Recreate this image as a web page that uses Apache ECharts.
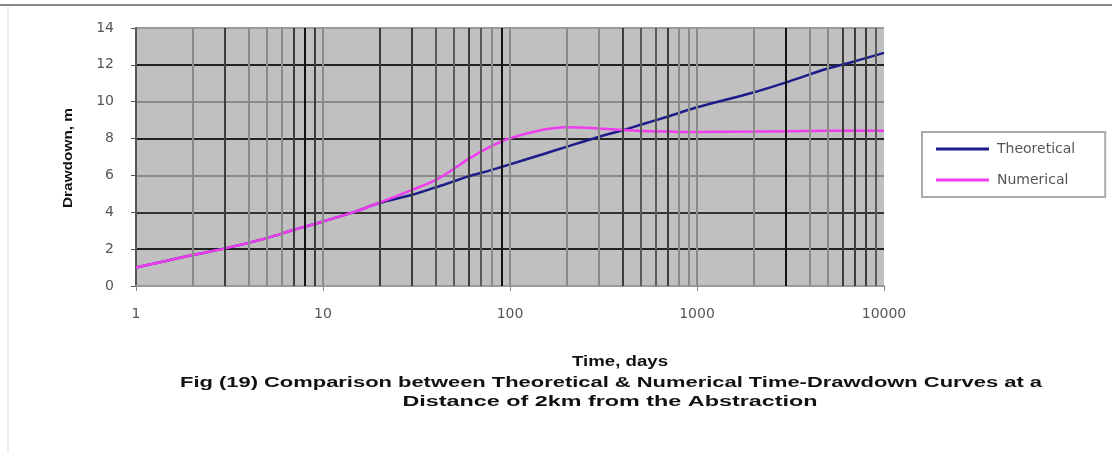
<!DOCTYPE html>
<html>
<head>
<meta charset="utf-8">
<script src="https://cdn.jsdelivr.net/npm/echarts@6/dist/echarts.min.js"></script>
<style>
  html, body { margin: 0; padding: 0; background: #fff; }
  #chart { width: 1112px; height: 453px; }
</style>
</head>
<body>
<div id="chart"></div>
<script>
// time in days (log axis)
const days = [1, 2, 3, 5, 7, 10, 15, 20, 30, 40, 50, 60, 80, 100, 150, 200, 300, 400, 500, 700, 1000, 2000, 3000, 5000, 7000, 10000];
const theoretical = [1.0, 1.68, 2.04, 2.6, 3.05, 3.5, 4.05, 4.5, 4.95, 5.35, 5.68, 5.95, 6.3, 6.6, 7.15, 7.55, 8.1, 8.45, 8.75, 9.2, 9.7, 10.5, 11.05, 11.8, 12.2, 12.65];
const numerical = [1.0, 1.68, 2.04, 2.6, 3.05, 3.5, 4.05, 4.52, 5.22, 5.75, 6.35, 6.9, 7.6, 8.02, 8.48, 8.62, 8.55, 8.46, 8.41, 8.38, 8.36, 8.38, 8.4, 8.42, 8.42, 8.43];

// vertical grid lines at every log minor tick
const minorTicks = [2, 3, 4, 5, 6, 7, 8, 9, 10,
  20, 30, 40, 50, 60, 70, 80, 90, 100,
  200, 300, 400, 500, 600, 700, 800, 900, 1000,
  2000, 3000, 4000, 5000, 6000, 7000, 8000, 9000];
// how dark each of those lines came out in the scan
const minorShade = ['#8a8a8a', '#3c3c3c', '#8a8a8a', '#8a8a8a', '#8a8a8a', '#3c3c3c', '#111', '#3c3c3c', '#8a8a8a',
  '#3c3c3c', '#3c3c3c', '#5a5a5a', '#5a5a5a', '#3c3c3c', '#5a5a5a', '#8a8a8a', '#111', '#8a8a8a',
  '#8a8a8a', '#8a8a8a', '#3c3c3c', '#5a5a5a', '#5a5a5a', '#3c3c3c', '#8a8a8a', '#8a8a8a', '#8a8a8a',
  '#8a8a8a', '#111', '#8a8a8a', '#8a8a8a', '#3c3c3c', '#3c3c3c', '#3c3c3c', '#5a5a5a'];

const yTitle = 'Drawdown, m';
const xTitle = 'Time, days';
const caption1 = 'Fig (19) Comparison between Theoretical & Numerical Time-Drawdown Curves at a';
const caption2 = 'Distance of 2km from the Abstraction';

const toPairs = (xs, ys) => xs.map((x, i) => [x, ys[i]]);

// the scanned figure is stretched sideways, so widen text to the measured width
const measureCtx = document.createElement('canvas').getContext('2d');
function stretch(text, font, target) {
  measureCtx.font = font;
  return target / measureCtx.measureText(text).width;
}

function label(text, x, y, size, target, rotate) {
  const font = 'bold ' + size + 'px "Liberation Sans"';
  return {
    type: 'text', x: x, y: y, rotation: rotate ? Math.PI / 2 : 0,
    scaleX: stretch(text, font, target),
    style: { text: text, font: font, fill: '#111', align: 'center', verticalAlign: 'middle' }
  };
}

const chart = echarts.init(document.getElementById('chart'));

chart.setOption({
  backgroundColor: '#fff',
  animation: false,
  grid: { left: 136, top: 28, right: 228, bottom: 167, show: true, backgroundColor: '#c0c0c0', borderWidth: 0 },
  legend: {
    orient: 'vertical',
    left: 922, top: 132,
    data: ['Theoretical', 'Numerical'],
    icon: 'rect',
    itemWidth: 53, itemHeight: 3,
    itemGap: 17,
    padding: [10, 30, 10, 14],
    backgroundColor: '#fff',
    borderColor: '#aaa', borderWidth: 2,
    textStyle: { fontFamily: 'DejaVu Sans', fontSize: 14, color: '#555', padding: [0, 0, 0, 3] }
  },
  xAxis: {
    type: 'log', logBase: 10, min: 1, max: 10000,
    axisLine: { show: true, lineStyle: { color: '#999', width: 2 } },
    axisTick: { show: true, length: 5, lineStyle: { color: '#888' } },
    axisLabel: { margin: 21, fontFamily: 'DejaVu Sans', fontSize: 14, color: '#555', formatter: v => String(v) },
    splitLine: { show: false }
  },
  yAxis: {
    type: 'value', min: 0, max: 14, interval: 2,
    axisLine: { show: true, lineStyle: { color: '#555', width: 2 } },
    axisTick: { show: true, length: 5, lineStyle: { color: '#555' } },
    axisLabel: { margin: 22, fontFamily: 'DejaVu Sans', fontSize: 14, color: '#555' },
    splitLine: { show: true, lineStyle: { width: 2, color: ['#999', '#222', '#333', '#8a8a8a', '#222', '#8a8a8a', '#222', '#999'] } }
  },
  series: [
    {
      name: 'gridlines', type: 'line', data: [], z: 1, silent: true,
      markLine: {
        silent: true, symbol: 'none', animation: false,
        label: { show: false },
        data: minorTicks.map((v, i) => ({ xAxis: v, lineStyle: { color: minorShade[i], width: 2, type: 'solid' } }))
      }
    },
    {
      name: 'Theoretical', type: 'line', smooth: 0.3, showSymbol: false, z: 3,
      data: toPairs(days, theoretical),
      lineStyle: { color: '#1c1c8a', width: 2.5 }, itemStyle: { color: '#1c1c8a' }
    },
    {
      name: 'Numerical', type: 'line', smooth: 0.3, showSymbol: false, z: 4,
      data: toPairs(days, numerical),
      lineStyle: { color: '#f03cf0', width: 2.5 }, itemStyle: { color: '#f03cf0' }
    }
  ],
  graphic: [
    { type: 'line', shape: { x1: 0, y1: 5, x2: 1112, y2: 5 }, style: { stroke: '#888', lineWidth: 2 } },
    { type: 'line', shape: { x1: 8, y1: 6, x2: 8, y2: 453 }, style: { stroke: '#ddd', lineWidth: 1 } },
    label(yTitle, 68, 158, 13, 100, true),
    label(xTitle, 620, 362, 14, 96, false),
    label(caption1, 611, 383, 14, 862, false),
    label(caption2, 610, 402, 14, 415, false)
  ]
});
</script>
</body>
</html>
